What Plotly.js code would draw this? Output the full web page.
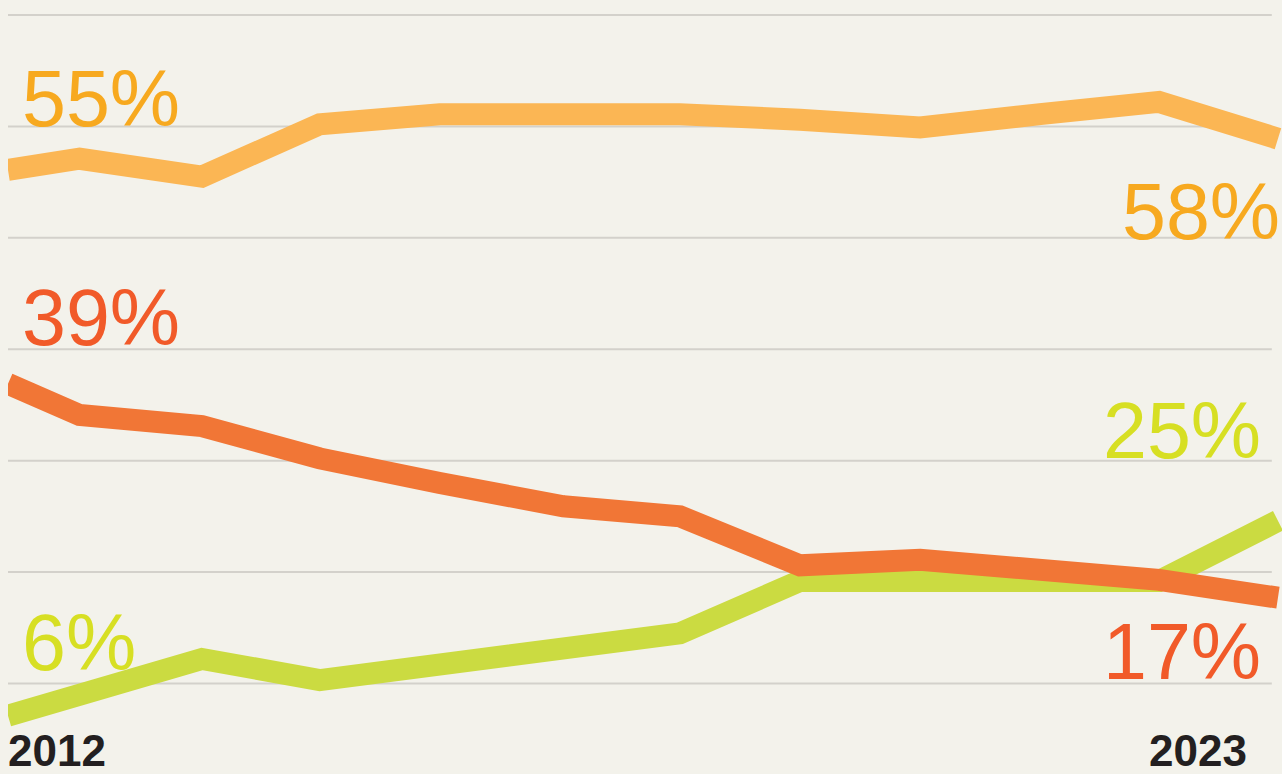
<!DOCTYPE html>
<html>
<head>
<meta charset="utf-8">
<script src="https://cdn.plot.ly/plotly-3.0.1.min.js"></script>
<style>
html,body{margin:0;padding:0;background:#F3F2EB;}
#chart{width:1282px;height:774px;}
</style>
</head>
<body>
<div id="chart"></div>
<script>
// Survey points (decimal years)
const years = [2012.00, 2012.62, 2013.68, 2014.70, 2015.74, 2016.81, 2017.82, 2018.86, 2019.90, 2020.94, 2021.97, 2023.00];
const seriesOrange = [56.1, 57.1, 55.5, 60.2, 61.1, 61.1, 61.1, 60.6, 59.9, 61.1, 62.2, 58.9];
const seriesRed    = [36.9, 34.1, 33.1, 30.2, 28.0, 25.9, 25.0, 20.6, 21.1, 20.2, 19.3, 17.7];
const seriesGreen  = [7.1, 9.0, 12.2, 10.3, 11.7, 13.1, 14.5, 19.2, 19.3, 19.2, 19.2, 24.6];
const startLabels = ["55%", "39%", "6%"];   // orange, red, green
const endLabels   = ["58%", "17%", "25%"];  // orange, red, green
const startLabelY = [60.0, 40.4, 11.2];
const endLabelY   = [49.9, 10.4, 30.2];
const yearTicks = ["2012", "2023"];
const gridValues = [10, 20, 30, 40, 50, 60, 70];

const lineColors  = ["#FBB654", "#F17636", "#CBDB41"];
const labelColors = ["#F7A91F", "#F15A29", "#D7DF23"];
const FONT = "Liberation Sans, Arial, Helvetica, sans-serif";

const traces = [
  {x: years, y: seriesGreen,  mode: "lines", line: {color: lineColors[2], width: 22}, hoverinfo: "skip"},
  {x: years, y: seriesOrange, mode: "lines", line: {color: lineColors[0], width: 22}, hoverinfo: "skip"},
  {x: years, y: seriesRed,    mode: "lines", line: {color: lineColors[1], width: 22}, hoverinfo: "skip"}
];

const shapes = gridValues.map(v => ({
  type: "line", xref: "paper", yref: "y", x0: 0, x1: 0.992, y0: v, y1: v,
  line: {color: "#D3D1CB", width: 2}, layer: "below"
}));

const annotations = [];
startLabels.forEach((t, i) => annotations.push({
  x: years[0], y: startLabelY[i], xref: "x", yref: "y", text: t, showarrow: false,
  xanchor: "left", yanchor: "bottom", xshift: 12, yshift: -19,
  font: {family: FONT, size: 79, color: labelColors[i]}
}));
const endShift = [4, -15, -15];
endLabels.forEach((t, i) => annotations.push({
  x: years[years.length - 1], y: endLabelY[i], xref: "x", yref: "y", text: t, showarrow: false,
  xanchor: "right", yanchor: "bottom", xshift: endShift[i], yshift: -19,
  font: {family: FONT, size: 79, color: labelColors[i]}
}));
annotations.push({
  x: years[0], y: 0, xref: "x", yref: "paper", text: "<b>" + yearTicks[0] + "</b>", showarrow: false,
  xanchor: "left", yanchor: "bottom", xshift: -2, yshift: -3,
  font: {family: FONT, size: 44, color: "#231F20"}
});
annotations.push({
  x: years[years.length - 1], y: 0, xref: "x", yref: "paper", text: "<b>" + yearTicks[1] + "</b>", showarrow: false,
  xanchor: "right", yanchor: "bottom", xshift: -29, yshift: -3,
  font: {family: FONT, size: 44, color: "#231F20"}
});

const layout = {
  width: 1282, height: 774,
  margin: {l: 8, r: 0, t: 0, b: 0, pad: 0},
  paper_bgcolor: "#F3F2EB", plot_bgcolor: "#F3F2EB",
  showlegend: false,
  xaxis: {range: [2012, 2023.035], showgrid: false, zeroline: false, showticklabels: false, showline: false, ticks: ""},
  yaxis: {range: [1.87, 71.35], showgrid: false, zeroline: false, showticklabels: false, showline: false, ticks: ""},
  shapes: shapes,
  annotations: annotations
};

Plotly.newPlot("chart", traces, layout, {staticPlot: true, displayModeBar: false});
</script>
</body>
</html>
